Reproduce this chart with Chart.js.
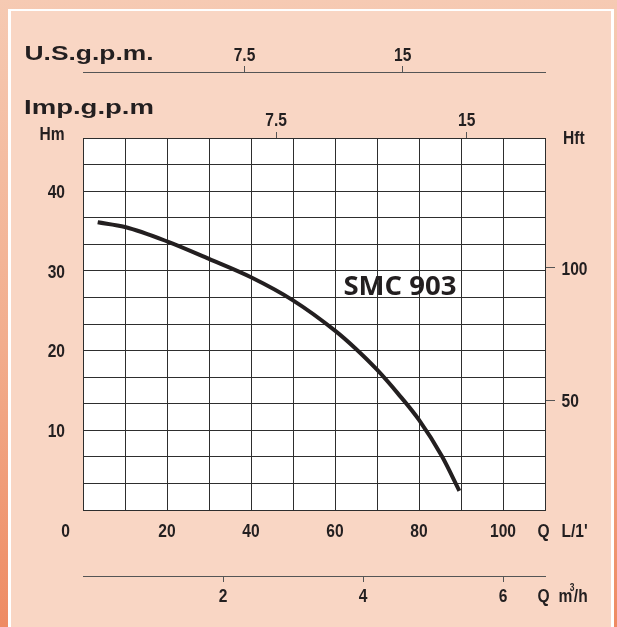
<!DOCTYPE html>
<html><head><meta charset="utf-8">
<script src="https://cdn.jsdelivr.net/npm/chart.js@4.4.1/dist/chart.umd.min.js"></script>
<style>
html,body{margin:0;padding:0;}
body{width:617px;height:627px;overflow:hidden;position:relative;background:linear-gradient(to bottom,#F6CAB3 0%,#F2AD8D 55%,#EE8B63 100%);}
#frame{position:absolute;left:8px;top:9px;width:600px;height:640px;border-left:3px solid #fff;border-right:3px solid #fff;border-top:2px solid #fff;background:#F9D6C4;}
#c{position:absolute;left:0;top:0;}
</style></head><body>
<div id="frame"></div>
<canvas id="c" width="617" height="627"></canvas>
<script>
// ---- data ----
const flowLpm = [3.5, 10, 20, 30, 40, 50, 60, 65, 70, 75, 80, 85.5, 89.6];
const headM   = [36.1, 35.5, 33.7, 31.5, 29.2, 26.3, 22.5, 20.2, 17.6, 14.6, 11.3, 6.7, 2.4];
const lpmLabels = [20, 40, 60, 80, 100];
const hmLabels  = [10, 20, 30, 40];
const hftTicks  = [50, 100];
const impTicks  = [7.5, 15];
const usTicks   = [7.5, 15];
const m3hTicks  = [2, 4, 6];
const curveName = 'SMC 903';

const INK = '#231f20';
const GRID = '#2e2e2e';
const AXIS = '#555555';
const SANS = "'Liberation Sans',Arial,sans-serif";
const NARROW_SIZE = 19;
const NARROW_SCALE = 0.82;

function fixedTicks(arr){ return s => { s.ticks = arr.map(v => ({value: v})); }; }

function narrow(ctx, text, x, base, align){
  ctx.save();
  ctx.font = 'bold ' + NARROW_SIZE + 'px ' + SANS;
  const w = ctx.measureText(text).width * NARROW_SCALE;
  let left = x;
  if (align === 'center') left = x - w / 2;
  else if (align === 'right') left = x - w;
  ctx.translate(left, base);
  ctx.scale(NARROW_SCALE, 1);
  ctx.textAlign = 'left';
  ctx.textBaseline = 'alphabetic';
  ctx.fillText(text, 0, 0);
  ctx.restore();
}
function wide(ctx, text, x, base, size, width){
  ctx.save();
  ctx.font = 'bold ' + size + 'px ' + SANS;
  const w = ctx.measureText(text).width;
  ctx.translate(x, base);
  ctx.scale(width / w, 1);
  ctx.textAlign = 'left';
  ctx.textBaseline = 'alphabetic';
  ctx.fillText(text, 0, 0);
  ctx.restore();
}

const textPlugin = {
  id: 'texts',
  beforeDraw(chart){
    const {ctx, chartArea: a} = chart;
    ctx.save();
    ctx.fillStyle = '#ffffff';
    ctx.fillRect(a.left, a.top, a.right - a.left, a.bottom - a.top);
    ctx.restore();
  },
  afterDraw(chart){
    const ctx = chart.ctx;
    const S = chart.scales;
    ctx.save();
    ctx.fillStyle = INK;
    // tick labels, placed by the chart's scales
    lpmLabels.forEach(v => narrow(ctx, String(v), S.x.getPixelForValue(v), 537, 'center'));
    m3hTicks.forEach(v => narrow(ctx, String(v), S.x4.getPixelForValue(v), 601.5, 'center'));
    impTicks.forEach(v => narrow(ctx, String(v), S.x2.getPixelForValue(v), 126, 'center'));
    usTicks.forEach(v => narrow(ctx, String(v), S.x3.getPixelForValue(v), 60.5, 'center'));
    hmLabels.forEach(v => narrow(ctx, String(v), S.y.left + S.y.width - 18, S.y.getPixelForValue(v) + 6.7, 'right'));
    hftTicks.forEach(v => narrow(ctx, String(v), S.y2.left + 16.5, S.y2.getPixelForValue(v) + 6.7, 'left'));
    // axis names
    wide(ctx, 'U.S.g.p.m.', 24.5, 59.5, 21, 129);
    wide(ctx, 'Imp.g.p.m', 24, 113.5, 20, 130);
    narrow(ctx, 'Hm', 39.5, 140, 'left');
    narrow(ctx, 'Hft', 563, 144, 'left');
    narrow(ctx, '0', 65.5, 537, 'center');
    narrow(ctx, 'Q', 537.5, 537, 'left');
    narrow(ctx, "L/1'", 561.5, 537, 'left');
    narrow(ctx, 'Q', 537.5, 601.5, 'left');
    narrow(ctx, 'm', 558.5, 601.5, 'left');
    ctx.save();
    ctx.font = 'bold ' + NARROW_SIZE + 'px ' + SANS;
    const mw = ctx.measureText('m').width * NARROW_SCALE;
    ctx.restore();
    ctx.save();
    ctx.font = 'bold 10px ' + SANS;
    ctx.translate(558.5 + mw - 2.5, 591);
    ctx.scale(0.85, 1);
    ctx.fillText('3', 0, 0);
    ctx.restore();
    narrow(ctx, '/h', 558.5 + mw + 1.5, 601.5, 'left');
    // curve name
    ctx.save();
    ctx.font = "700 27px 'Open Sans',sans-serif";
    const cw = ctx.measureText(curveName).width;
    ctx.translate(S.x.getPixelForValue(62.0), S.y.getPixelForValue(26.95));
    ctx.scale(113 / cw, 1);
    ctx.textAlign = 'left';
    ctx.fillText(curveName, 0, 0);
    ctx.restore();
    ctx.restore();
  }
};

const hiddenLabels = {display: false};

new Chart(document.getElementById('c').getContext('2d'), {
  type: 'line',
  data: {
    datasets: [{
      data: flowLpm.map((x, i) => ({x: x, y: headM[i]})),
      borderColor: INK, borderWidth: 4, pointRadius: 0,
      tension: 0.4, cubicInterpolationMode: 'monotone', fill: false,
      xAxisID: 'x', yAxisID: 'y'
    }]
  },
  options: {
    responsive: false, animation: false, devicePixelRatio: 1,
    layout: {padding: {top: 22, bottom: 11, left: 0, right: 0}},
    plugins: {legend: {display: false}, tooltip: {enabled: false}},
    scales: {
      x: {
        type: 'linear', position: 'bottom', weight: 0, min: 0, max: 110,
        ticks: {stepSize: 10, autoSkip: false, display: false},
        grid: {color: GRID, lineWidth: 1, drawTicks: false},
        border: {display: true, color: GRID, width: 1},
        afterFit: s => { s.height = 66; }
      },
      x4: {
        type: 'linear', position: 'bottom', weight: 1, min: 0, max: 6.6,
        afterBuildTicks: fixedTicks(m3hTicks),
        ticks: hiddenLabels,
        grid: {drawOnChartArea: false, tickLength: 6, color: AXIS},
        border: {display: true, color: AXIS, width: 1},
        afterFit: s => { s.height = 40; }
      },
      x2: {
        type: 'linear', position: 'top', weight: 1, min: -0.1, max: 18.08,
        afterBuildTicks: fixedTicks(impTicks),
        ticks: hiddenLabels,
        grid: {drawOnChartArea: false, tickLength: 6, color: AXIS},
        border: {display: true, color: GRID, width: 1},
        afterFit: s => { s.height = 66; }
      },
      x3: {
        type: 'linear', position: 'top', weight: 2, min: -0.156, max: 21.75,
        afterBuildTicks: fixedTicks(usTicks),
        ticks: hiddenLabels,
        grid: {drawOnChartArea: false, tickLength: 6, color: AXIS},
        border: {display: true, color: AXIS, width: 1},
        afterFit: s => { s.height = 50; }
      },
      y: {
        type: 'linear', position: 'left', min: 0, max: 140 / 3,
        ticks: {stepSize: 10 / 3, autoSkip: false, display: false},
        grid: {color: GRID, lineWidth: 1, drawTicks: false},
        border: {display: true, color: GRID, width: 1},
        afterFit: s => { s.width = 83; }
      },
      y2: {
        type: 'linear', position: 'right', min: 8.9, max: 148.9,
        afterBuildTicks: fixedTicks(hftTicks),
        ticks: hiddenLabels,
        grid: {drawOnChartArea: false, tickLength: 10, color: AXIS},
        border: {display: true, color: GRID, width: 1},
        afterFit: s => { s.width = 72; }
      }
    }
  },
  plugins: [textPlugin]
});
</script>
</body></html>
